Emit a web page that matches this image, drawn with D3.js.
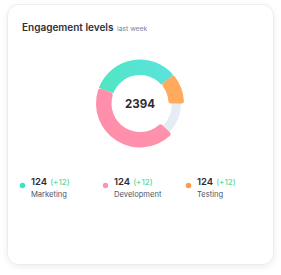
<!DOCTYPE html>
<html><head><meta charset="utf-8">
<script src="https://cdn.jsdelivr.net/npm/d3@7"></script>
<style>
html,body{margin:0;padding:0;background:#fff;}
svg{display:block;font-family:Inter,"Noto Sans",sans-serif;}
</style></head>
<body>
<svg id="c" width="281" height="275"></svg>
<script>
const title = "Engagement levels";
const subtitle = "last week";
const total = "2394";
const categories = ["Marketing", "Development", "Testing"];
const values = [124, 124, 124];
const changes = ["+12", "+12", "+12"];
// ring spans in degrees (start, end)
const arcStart = [-69, 134, 49];
const arcEnd = [49, 291, 90];
const colorsA = ["#4fe6c0", "#ff8eab", "#ffb55c"];
const colorsB = ["#5de2e0", "#ff93ad", "#ffa85e"];
const dotColors = ["#3ee3c1", "#ff93b0", "#ff9a4d"];

const svg = d3.select("#c");
const defs = svg.append("defs");
const f = defs.append("filter").attr("id","sh").attr("x","-10%").attr("y","-10%").attr("width","120%").attr("height","125%");
f.append("feDropShadow").attr("dx",0).attr("dy",2).attr("stdDeviation",3).attr("flood-color","#000").attr("flood-opacity",0.07);

svg.append("rect").attr("x",7.5).attr("y",4.5).attr("width",266).attr("height",260)
  .attr("rx",11).attr("fill","#fff").attr("stroke","#ececec").attr("filter","url(#sh)");

svg.append("text").attr("x",22).attr("y",30.5).attr("font-size",10).attr("font-weight",600)
  .attr("fill","#2f3037").text(title)
  .append("tspan").attr("dx",3.5).attr("font-size",6.8).attr("font-weight",400).attr("fill","#7b8598").text(subtitle);

const cx = 140, cy = 103.5;
const g = svg.append("g").attr("transform",`translate(${cx},${cy})`);
const rad = d3.scaleLinear().domain([0,360]).range([0,2*Math.PI]);

// background track
g.append("path").attr("d", d3.arc().innerRadius(32).outerRadius(41)({startAngle:0,endAngle:2*Math.PI}))
  .attr("fill","#e6ecf5");

categories.forEach((c,i)=>{
  const lg = defs.append("linearGradient").attr("id","gr"+i).attr("gradientUnits","userSpaceOnUse")
    .attr("x1",-44).attr("y1",0).attr("x2",44).attr("y2",-20);
  lg.append("stop").attr("offset","0%").attr("stop-color",colorsA[i]);
  lg.append("stop").attr("offset","100%").attr("stop-color",colorsB[i]);
});
[0,2,1].forEach(i=>{
  const a = d3.arc().innerRadius(28.5).outerRadius(44).cornerRadius(i===0?0:2.5);
  g.append("path").attr("d", a({startAngle:rad(arcStart[i]), endAngle:rad(arcEnd[i])}))
    .attr("fill",`url(#gr${i})`);
});

g.append("text").attr("x",0).attr("y",4.3).attr("text-anchor","middle").attr("font-size",11.5)
  .attr("font-weight",700).attr("fill","#2c2d33").text(total);

const lx = d3.scalePoint().domain(categories).range([31,197]);
categories.forEach((c,i)=>{
  const x = lx(c);
  svg.append("circle").attr("cx",x-8.5).attr("cy",185.5).attr("r",2.7).attr("fill",dotColors[i]);
  const t = svg.append("text").attr("x",x).attr("y",185).attr("font-size",9.5).attr("font-weight",600).attr("fill","#2c2d33").text(values[i]);
  t.append("tspan").attr("dx",3).attr("font-size",8).attr("font-weight",500).attr("fill","#5fd6a4").text("("+changes[i]+")");
  svg.append("text").attr("x",x).attr("y",196.5).attr("font-size",7.6).attr("fill","#4d566a").text(c);
});
</script>
</body></html>
